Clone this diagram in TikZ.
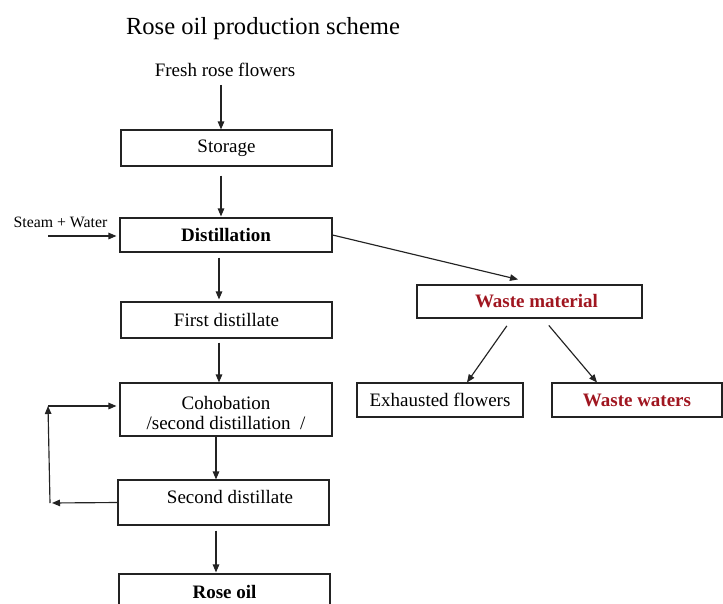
\documentclass[tikz,border=0pt]{standalone}
\usepackage{fontspec}
\setmainfont{Liberation Serif}
\usetikzlibrary{arrows.meta,calc}
\definecolor{wred}{RGB}{160,22,32}
\definecolor{ln}{RGB}{35,35,35}
\tikzset{
  box/.style={draw=ln, line width=1.1pt, rectangle, inner sep=0pt, font=\fontsize{19}{21}\selectfont},
  plain/.style={inner sep=0pt, font=\fontsize{19}{21}\selectfont},
  arr/.style={draw=ln, line width=1.15pt, -{Triangle[length=8pt,width=6.5pt]}},
  redtxt/.style={text=wred, font=\fontsize{19}{21}\selectfont\bfseries}
}
\begin{document}
\begin{tikzpicture}[x=1pt,y=-1pt]
\useasboundingbox (0,0) rectangle (723,603);
\clip (0,0) rectangle (723,603);
\fill[white] (0,0) rectangle (723,603);
% title
\node[inner sep=0pt, font=\fontsize{24.6}{28}\selectfont] (title) at (263,29) {Rose oil production scheme};
\node[plain] (fresh) at (225,70) {Fresh rose flowers};
\node[inner sep=0pt, font=\fontsize{15.8}{18}\selectfont] (steam) at (60.5,222) {Steam + Water};
% main column
\node[box, minimum width=211pt, minimum height=36pt] (storage) at (226.5,148) {Storage};
\node[box, minimum width=212pt, minimum height=34pt, font=\fontsize{19}{21}\selectfont\bfseries] (distil) at (226,235) {Distillation};
\node[box, minimum width=211pt, minimum height=36pt] (first) at (226.5,320) {First distillate};
\node[box, minimum width=212pt, minimum height=53pt] (coh) at (226,409.5) {};
\node[plain, align=center] (cohtxt) at (226,412.5) {Cohobation\hspace{20pt}\\[-1pt]/second distillation\ \ /};
\node[box, minimum width=211pt, minimum height=45pt] (second) at (223.5,502.5) {};
\node[plain] (sectxt) at (230,497) {Second distillate};
\node[box, minimum width=211pt, minimum height=36pt, font=\fontsize{19}{21}\selectfont\bfseries] (rose) at (224.5,592) {Rose oil};
% right side
\node[box, minimum width=225pt, minimum height=33pt, redtxt] (waste) at (529.5,301.5) {\hspace{14pt}Waste material};
\node[box, minimum width=166pt, minimum height=34pt] (exh) at (440,400) {Exhausted flowers};
\node[box, minimum width=170pt, minimum height=34pt, redtxt] (ww) at (637,400) {Waste waters};
% loop coordinates
\coordinate (lb) at (50,503);
\coordinate (lt) at (48,406);
\coordinate (sw) at (48,236);
% arrows
\draw[arr, shorten <=8pt] ([xshift=-4pt]fresh.south) -- ([xshift=-5.5pt]storage.north);
\draw[arr, shorten <=9pt, shorten >=1pt] ([xshift=-5.5pt]storage.south) -- ([xshift=-5pt]distil.north);
\draw[arr, shorten <=5pt, shorten >=2pt] ([xshift=-7pt]distil.south) -- ([xshift=-7.5pt]first.north);
\draw[arr, shorten <=4pt] ([xshift=-7.5pt]first.south) -- ([xshift=-7pt]coh.north);
\draw[arr] ([xshift=-10pt]coh.south) -- ([xshift=-7.5pt]second.north);
\draw[arr, shorten <=5pt, shorten >=1pt] ([xshift=-7.5pt]second.south) -- ([xshift=-8.5pt]rose.north);
\draw[arr, shorten >=3pt] (sw) -- (sw -| distil.west);
\draw[arr, shorten >=2pt] (second.west) -- (lb);
\draw[arr] (lb) -- (lt);
\draw[arr, shorten >=3pt] (lt) -- (lt -| coh.west);
\draw[arr] ([yshift=0pt]distil.east) -- ([xshift=-11.5pt,yshift=5pt]waste.north);
\draw[arr, shorten <=9pt] ([xshift=-17.5pt]waste.south) -- ([xshift=27pt]exh.north);
\draw[arr, shorten <=9pt] ([xshift=13.5pt]waste.south) -- ([xshift=-40pt]ww.north);
\end{tikzpicture}
\end{document}
